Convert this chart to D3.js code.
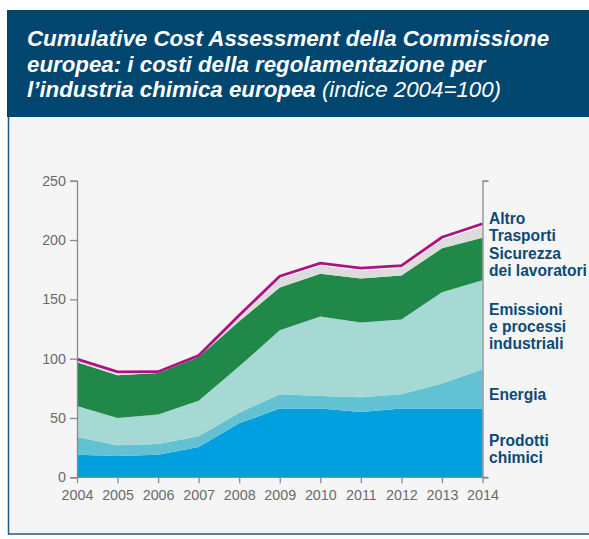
<!DOCTYPE html>
<html><head><meta charset="utf-8">
<script src="https://cdn.jsdelivr.net/npm/d3@7"></script>
<style>
html,body{margin:0;padding:0;background:#fff;}
svg{display:block;font-family:"Liberation Sans",Arial,Helvetica,sans-serif;}
</style></head>
<body>
<svg id="c" width="589" height="539"></svg>
<script>
const years = [2004,2005,2006,2007,2008,2009,2010,2011,2012,2013,2014];
const prodotti   = [19,18,19,25.5,45.5,58,58,55,58,58,58];
const energia    = [15,9,9,9,9,12,10.5,12.5,12,21,33];
const emissioni  = [26,23,25,30,39,54,67,63,63,77,75];
const sicurezza  = [37,36,35,37,38,36,36,37,37,37,36];
const trasporti  = [1.1,1.3,0.5,0.6,3.5,7.5,7,6.8,6.4,7.3,9.2];
const altro      = [1.5,1.5,0.5,0.6,1.5,2,2,2,2,2,2.5];
const yTicks = [0,50,100,150,200,250];
const seriesNames = ["Prodotti chimici","Energia","Emissioni e processi industriali","Sicurezza dei lavoratori","Trasporti","Altro"];
const colors = ["#009fe0","#62c1d3","#a6d8d4","#20894a","#dcdcdc","#f8f8f8"];
const labelLines = [
  {lines:["Prodotti","chimici"], y:440},
  {lines:["Energia"], y:394},
  {lines:["Emissioni","e processi","industriali"], y:309},
  {lines:["Sicurezza","dei lavoratori"], y:253},
  {lines:["Trasporti"], y:235},
  {lines:["Altro"], y:218}
];

const svg = d3.select("#c");
// panel
svg.append("rect").attr("x",8).attr("y",10).attr("width",581).attr("height",524).attr("fill","#f5f5f5");
svg.append("rect").attr("x",7).attr("y",10).attr("width",582).attr("height",107).attr("fill","#00466f");
svg.append("line").attr("x1",8.5).attr("x2",8.5).attr("y1",117).attr("y2",534.5).attr("stroke","#1d5a84").attr("stroke-width",1.5);
svg.append("line").attr("x1",8).attr("x2",589).attr("y1",534).attr("y2",534).attr("stroke","#1d5a84").attr("stroke-width",1.5);

// title
const title = svg.append("text").attr("fill","#fff").attr("font-size",22.3).attr("font-style","italic").attr("font-weight","bold");
title.append("tspan").attr("x",27).attr("y",46).text("Cumulative Cost Assessment della Commissione");
title.append("tspan").attr("x",27).attr("y",71.5).text("europea: i costi della regolamentazione per");
const t3 = title.append("tspan").attr("x",27).attr("y",97);
t3.append("tspan").text("l\u2019industria chimica europea ");
t3.append("tspan").attr("font-weight","normal").text("(indice 2004=100)");

const x = d3.scaleLinear().domain([2004,2014]).range([77,482.5]);
const y = d3.scaleLinear().domain([0,250]).range([477.3,180.7]);

const table = years.map((yr,i)=>({year:yr, s0:prodotti[i], s1:energia[i], s2:emissioni[i], s3:sicurezza[i], s4:trasporti[i], s5:altro[i]}));
const keys = ["s0","s1","s2","s3","s4","s5"];
const stack = d3.stack().keys(keys)(table);
const area = d3.area().x(d=>x(d.data.year)).y0(d=>y(d[0])).y1(d=>y(d[1]));
svg.append("g").selectAll("path").data(stack).join("path")
  .attr("d",area).attr("fill",(d,i)=>colors[i]);

// total line
const line = d3.line().x(d=>x(d.data.year)).y(d=>y(d[1]));
svg.append("path").datum(stack[5]).attr("d",line).attr("fill","none")
  .attr("stroke","#ad1283").attr("stroke-width",2.8).attr("stroke-linejoin","miter");

// axes
const axisColor = "#8a8a8a";
const gy = svg.append("g").attr("transform","translate(77,0)")
  .call(d3.axisLeft(y).tickValues(yTicks).tickSize(7).tickPadding(4).tickFormat(d3.format("d")));
const gx = svg.append("g").attr("transform","translate(0,477.3)")
  .call(d3.axisBottom(x).tickValues(years).tickSize(6).tickPadding(7).tickFormat(d3.format("d")));
const gr = svg.append("g").attr("transform","translate(482.5,0)")
  .call(d3.axisRight(y).tickValues([0,250]).tickSize(6).tickFormat(""));
[gy,gx,gr].forEach(g=>{
  g.selectAll("path").attr("stroke",axisColor).attr("stroke-width",1.3);
  g.selectAll("line").attr("stroke",axisColor).attr("stroke-width",1.3);
  g.selectAll("text").attr("fill","#6b6b6b").attr("font-size",14.3).attr("font-family","Liberation Sans, Arial, sans-serif");
});
gx.select(".domain").attr("d","M77,0H488");

// series labels
const lg = svg.append("g").attr("fill","#0b4a78").attr("font-size",15.6).attr("font-weight","bold");
labelLines.forEach(l=>{
  l.lines.forEach((t,j)=>{
    lg.append("text").attr("x",489).attr("y",l.y + 5.5 + j*17).text(t);
  });
});
</script>
</body></html>
